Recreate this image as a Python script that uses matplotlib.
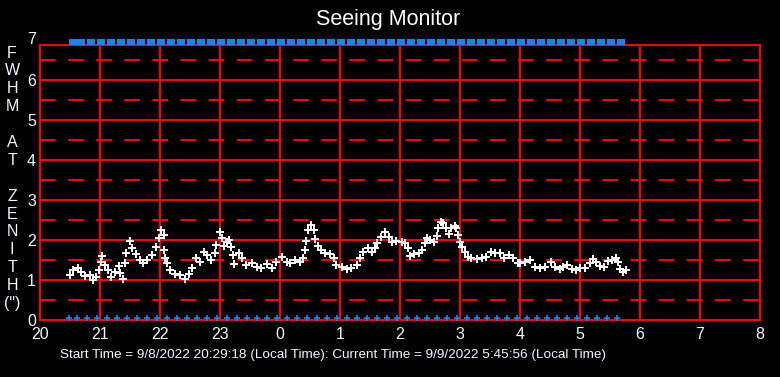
import numpy as np
import matplotlib.pyplot as plt
from matplotlib.path import Path

plt.rcParams['font.family'] = ['Liberation Sans', 'DejaVu Sans']

# ----- Data (hours since midnight of start day; >24 means next day) -----
seeing_time = [
    20.50, 20.556, 20.64, 20.69, 20.75, 20.83, 20.89, 20.94, 20.99, 21.01,
    21.04, 21.08, 21.14, 21.19, 21.25, 21.31, 21.34, 21.38, 21.42, 21.44,
    21.50, 21.54, 21.60, 21.66, 21.72, 21.79, 21.86, 21.93, 21.98, 22.01,
    22.06, 22.07, 22.09, 22.11, 22.17, 22.25, 22.33, 22.42, 22.48, 22.53,
    22.60, 22.67, 22.74, 22.79, 22.85, 22.91, 22.94, 23.00, 23.04, 23.07,
    23.11, 23.15, 23.18, 23.21, 23.24, 23.31, 23.36, 23.44, 23.53, 23.61,
    23.69, 23.78, 23.86, 23.94, 24.03, 24.11, 24.17, 24.25, 24.33, 24.39,
    24.42, 24.44, 24.47, 24.51, 24.56, 24.59, 24.63, 24.68, 24.75, 24.83,
    24.90, 24.94, 25.03, 25.11, 25.19, 25.28, 25.33, 25.39, 25.46, 25.53,
    25.58, 25.62, 25.68, 25.75, 25.81, 25.86, 25.93, 26.03, 26.08, 26.13,
    26.17, 26.24, 26.31, 26.36, 26.41, 26.45, 26.50, 26.56, 26.61, 26.64,
    26.68, 26.72, 26.76, 26.81, 26.85, 26.91, 26.94, 26.97, 27.00, 27.04,
    27.08, 27.13, 27.19, 27.28, 27.36, 27.44, 27.52, 27.59, 27.67, 27.74,
    27.81, 27.89, 27.97, 28.00, 28.08, 28.17, 28.25, 28.33, 28.42, 28.51,
    28.58, 28.66, 28.72, 28.79, 28.86, 28.93, 29.00, 29.08, 29.16, 29.21,
    29.27, 29.33, 29.40, 29.47, 29.54, 29.60, 29.64, 29.67, 29.72, 29.77,
]
seeing_fwhm = [
    1.12, 1.25, 1.31, 1.21, 1.11, 1.12, 1.00, 1.08, 1.25, 1.46,
    1.61, 1.37, 1.25, 1.08, 1.21, 1.36, 1.17, 1.02, 1.42, 1.67,
    1.97, 1.79, 1.64, 1.50, 1.43, 1.50, 1.62, 1.83, 2.04, 2.25,
    2.12, 1.75, 1.56, 1.42, 1.25, 1.16, 1.12, 1.02, 1.14, 1.31,
    1.54, 1.46, 1.71, 1.62, 1.50, 1.67, 1.87, 2.21, 2.06, 1.86,
    1.96, 2.00, 1.83, 1.62, 1.39, 1.67, 1.54, 1.37, 1.42, 1.33,
    1.31, 1.39, 1.29, 1.46, 1.58, 1.46, 1.42, 1.50, 1.46, 1.54,
    1.75, 1.97, 2.25, 2.37, 2.25, 2.02, 1.86, 1.75, 1.67, 1.64,
    1.54, 1.37, 1.33, 1.27, 1.31, 1.37, 1.54, 1.71, 1.79, 1.71,
    1.79, 1.92, 2.08, 2.21, 2.08, 1.96, 1.97, 1.94, 1.92, 1.79,
    1.61, 1.64, 1.67, 1.75, 1.92, 2.04, 2.00, 1.96, 2.11, 2.29,
    2.46, 2.42, 2.29, 2.14, 2.29, 2.36, 2.29, 2.12, 1.96, 1.83,
    1.69, 1.58, 1.56, 1.52, 1.54, 1.58, 1.71, 1.67, 1.67, 1.54,
    1.62, 1.56, 1.42, 1.42, 1.46, 1.50, 1.33, 1.29, 1.33, 1.46,
    1.33, 1.27, 1.33, 1.37, 1.27, 1.25, 1.29, 1.31, 1.42, 1.52,
    1.44, 1.36, 1.33, 1.47, 1.50, 1.54, 1.46, 1.27, 1.19, 1.25,
]

# sampling times of the status rows, minutes after 20:00
status_min = [
    29, 37, 47, 57, 67, 77, 87, 97, 107, 117, 127, 137, 147, 157, 167,
    177, 187, 197, 207, 217, 227, 237, 247, 257, 267, 277, 287, 297, 307,
    317, 327, 337, 347, 357, 367, 377, 387, 397, 407, 417, 427, 437, 447,
    457, 467, 477, 487, 497, 507, 517, 527, 537, 547, 557, 567, 577,
]

hour_ticks = [20, 21, 22, 23, 24, 25, 26, 27, 28, 29, 30, 31, 32]
hour_labels = ['20', '21', '22', '23', '0', '1', '2', '3', '4', '5', '6', '7', '8']
ylabel_chars = ['F', 'W', 'H', 'M', '', 'A', 'T', '', 'Z', 'E', 'N', 'I', 'T', 'H', '(")']

footer = ("Start Time = 9/8/2022 20:29:18 (Local Time): "
          "Current Time = 9/9/2022 5:45:56 (Local Time)")

RED = '#ff0000'
BLUE = '#1a82ff'
TXT = '#f2f6ff'

# ----- Figure -----
fig = plt.figure(figsize=(7.8, 3.77), dpi=100, facecolor='black')
ax = fig.add_axes([40 / 780, 57 / 377, 720 / 780, 275 / 377], facecolor='black')
ax.set_xlim(20, 32)
ax.set_ylim(0, 6.875)

# grid
for h in hour_ticks[1:-1]:
    ax.axvline(h, color=RED, lw=1.5, zorder=1)
for v in range(1, 7):
    ax.axhline(v, color=RED, lw=1.5, zorder=1)
for v in np.arange(0.5, 7, 1.0):
    ax.axhline(v, color=RED, lw=1.5, dashes=(7.5, 6), zorder=1)

for s in ax.spines.values():
    s.set_color(RED)
    s.set_linewidth(1.5)

# data
ax.plot(seeing_time, seeing_fwhm, ls='none', marker='+', ms=6, mew=1.4,
        color='white', zorder=3)

status_t = [20 + m / 60 for m in status_min]
ax.plot(status_t, [0.06] * len(status_t), ls='none', marker='+', ms=5, mew=1.2,
        color=BLUE, zorder=3, clip_on=False)

bar_marker = Path([(0, -0.33), (1, -0.33), (1, 0.33), (0, 0.33), (0, -0.33)])
ax.plot(status_t, [6.94] * len(status_t), ls='none', marker=bar_marker, ms=11.5,
        mew=0, color=BLUE, zorder=4, clip_on=False)

# ticks
ax.set_xticks(hour_ticks)
ax.set_xticklabels(hour_labels)
ax.set_yticks(range(0, 7))
ax.tick_params(length=0, colors=TXT, labelsize=11.5)
ax.tick_params(axis='x', pad=5)
ax.tick_params(axis='y', pad=3)
ax.text(-0.005, 7, '7', transform=ax.get_yaxis_transform(), ha='right',
        va='center', color=TXT, fontsize=11.5, clip_on=False)

# stacked y label
for i, ch in enumerate(ylabel_chars):
    fig.text(12 / 780, 1 - (53 + i * 17.9) / 377, ch, ha='center', va='center',
             color=TXT, fontsize=11.5)

fig.text(388 / 780, 1 - 20 / 377, 'Seeing Monitor', ha='center', va='center',
         color='white', fontsize=15.5)
fig.text(333 / 780, 1 - 355 / 377, footer, ha='center', va='center',
         color=TXT, fontsize=9.7)

fig.savefig('out.png', dpi=100, facecolor='black')
